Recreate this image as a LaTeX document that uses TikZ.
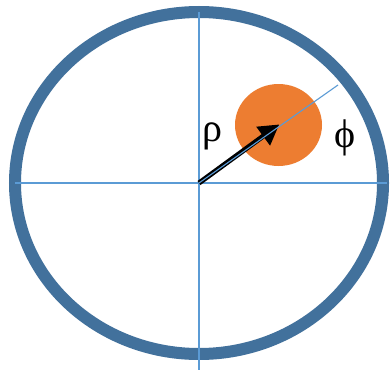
\documentclass[tikz,border=0pt]{standalone}
\usepackage{fontspec}
\newfontfamily\greekfont{Liberation Serif}
\usetikzlibrary{arrows.meta,shapes.geometric}
\definecolor{ringblue}{RGB}{66,113,156}
\definecolor{dotorange}{RGB}{237,125,49}
\definecolor{axisblue}{RGB}{91,155,213}
\tikzset{
  ring/.style={draw=ringblue, line width=12pt},
  axisline/.style={draw=axisblue, line width=1.1pt},
  vec/.style={draw=black, line width=5pt, -{Triangle[length=20pt,width=22pt]}},
  greek/.style={font=\greekfont\fontsize{40}{42}\selectfont, inner sep=0pt}
}
\begin{document}
\begin{tikzpicture}[x=1pt,y=-1pt]
\useasboundingbox[fill=white] (0,0) rectangle (390,372);
\coordinate (o) at (199,183);
\draw[ring] (o) ellipse [x radius=184, y radius=171];
\coordinate (hl) at (15,183);
\coordinate (hr) at (387,183);
\coordinate (vt) at (199,12);
\coordinate (vb) at (199,370);
\coordinate (dg) at (338,85);
\draw[axisline] (hl) -- (hr);
\draw[axisline] (vt) -- (vb);
\node[ellipse, fill=dotorange, minimum width=87pt, minimum height=82pt, inner sep=0pt] (dot) at (278.5,125) {};
\draw[vec, shorten >=-1pt] (o) -- (dot.center);
\draw[axisline] (o) -- (dg);
\node[greek] (rho) at (212,136) {ρ};
\node[greek] (phi) at (345,138) {ϕ};
\end{tikzpicture}
\end{document}
